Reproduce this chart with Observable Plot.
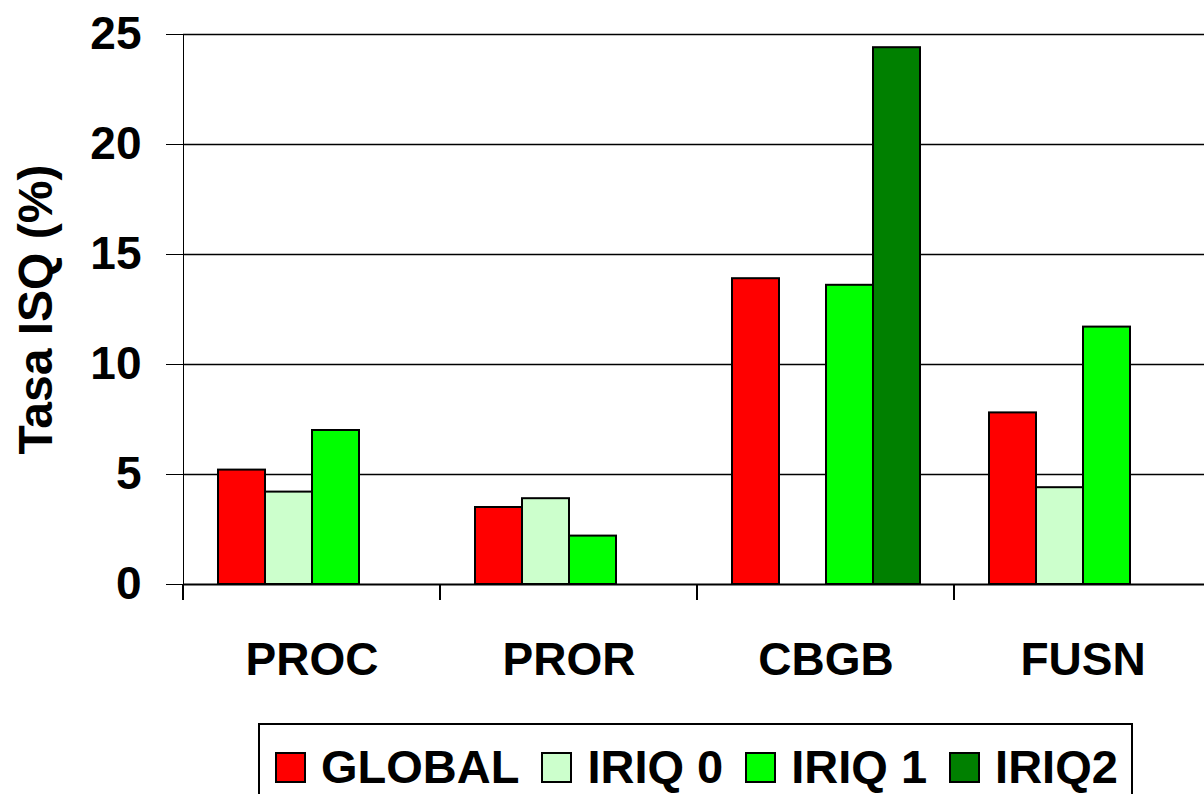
<!DOCTYPE html>
<html>
<head>
<meta charset="utf-8">
<script src="https://cdn.jsdelivr.net/npm/d3@7"></script>
<script src="https://cdn.jsdelivr.net/npm/@observablehq/plot@0.6"></script>
<style>
  html, body { margin: 0; padding: 0; background: #fff; overflow: hidden; }
  #wrap {
    position: relative; width: 1204px; height: 794px; overflow: hidden;
    font-family: "Liberation Sans", Arial, sans-serif; font-weight: bold; color: #000;
  }
  #chart { position: absolute; left: 0; top: 0; width: 1212px; }
  #chart svg { max-width: none !important; display: block; }
  #legend {
    position: absolute; left: 258px; top: 723px; width: 875px; height: 120px;
    box-sizing: border-box; border: 2px solid #000; background: #fff;
    display: flex; align-items: flex-start; padding: 22px 0 0 15px;
  }
  .item { display: flex; align-items: center; margin-right: 22px; }
  .swatch { width: 31px; height: 31px; box-sizing: border-box; border: 2px solid #000; margin-right: 15px; }
  .label { font-size: 47px; line-height: 40px; white-space: nowrap; }
</style>
</head>
<body>
<div id="wrap">
  <div id="chart"></div>
  <div id="legend"></div>
</div>
<script>
// Surgical-site infection rate by procedure and risk index
const categories = ["PROC", "PROR", "CBGB", "FUSN"];
const seriesNames = ["GLOBAL", "IRIQ 0", "IRIQ 1", "IRIQ2"];
const seriesColors = ["#ff0000", "#ccffcc", "#00ff00", "#008000"];
const globalRate = [5.2, 3.5, 13.9, 7.8];
const iriq0Rate = [4.2, 3.9, null, 4.4];
const iriq1Rate = [7.0, 2.2, 13.6, 11.7];
const iriq2Rate = [null, null, 24.4, null];
const yTicks = [0, 5, 10, 15, 20, 25];
const yTitle = "Tasa ISQ (%)";

const seriesValues = [globalRate, iriq0Rate, iriq1Rate, iriq2Rate];
const rows = [];
categories.forEach((cat, i) => {
  seriesNames.forEach((series, j) => {
    const value = seriesValues[j][i];
    if (value != null) rows.push({cat, series, value});
  });
});

const font = "'Liberation Sans', Arial, sans-serif";

// The last category band runs a little past the right edge of the page
const chart = Plot.plot({
  width: 1212,
  height: 720,
  marginLeft: 182,
  marginRight: 0,
  marginTop: 34,
  marginBottom: 136,
  style: {fontFamily: font, fontWeight: "bold", fontSize: "46px", color: "#000", background: "transparent", overflow: "visible", maxWidth: "none"},
  facet: {data: rows, x: "cat"},
  fx: {domain: categories, paddingInner: 0, paddingOuter: 0, tickSize: 0, tickPadding: 58, label: null},
  x: {domain: seriesNames, paddingInner: 0, paddingOuter: 0.71, axis: null},
  y: {domain: [0, 25], ticks: yTicks, tickSize: 17, tickPadding: 25, line: true,
      label: yTitle, labelAnchor: "center", labelOffset: 166, labelArrow: "none"},
  color: {domain: seriesNames, range: seriesColors},
  marks: [
    Plot.ruleY(yTicks.slice(1), {stroke: "#000", strokeWidth: 1.5}),
    Plot.barY(rows, {x: "series", y: "value", fill: "series", stroke: "#000", strokeWidth: 2}),
    Plot.ruleY([0], {stroke: "#000", strokeWidth: 2})
  ]
});

// Slightly larger axis title
d3.select(chart).selectAll("text")
  .filter(function () { return this.textContent === yTitle; })
  .style("font-size", "48px");

// Category separator ticks below the baseline, at the facet band edges
const fx = chart.scale("fx");
const ys = chart.scale("y");
const edges = categories.map(c => fx.apply(c)).concat([fx.apply(categories[categories.length - 1]) + fx.bandwidth]);
const yBase = ys.apply(0);
d3.select(chart).append("g")
  .attr("stroke", "#000").attr("stroke-width", 2)
  .selectAll("line").data(edges).join("line")
  .attr("x1", d => d).attr("x2", d => d)
  .attr("y1", yBase).attr("y2", yBase + 16);

document.getElementById("chart").appendChild(chart);

// Legend below the chart
const legend = d3.select("#legend");
seriesNames.forEach((name, i) => {
  const item = legend.append("div").attr("class", "item");
  item.append("div").attr("class", "swatch").style("background", seriesColors[i]);
  item.append("div").attr("class", "label").text(name);
});
</script>
</body>
</html>
